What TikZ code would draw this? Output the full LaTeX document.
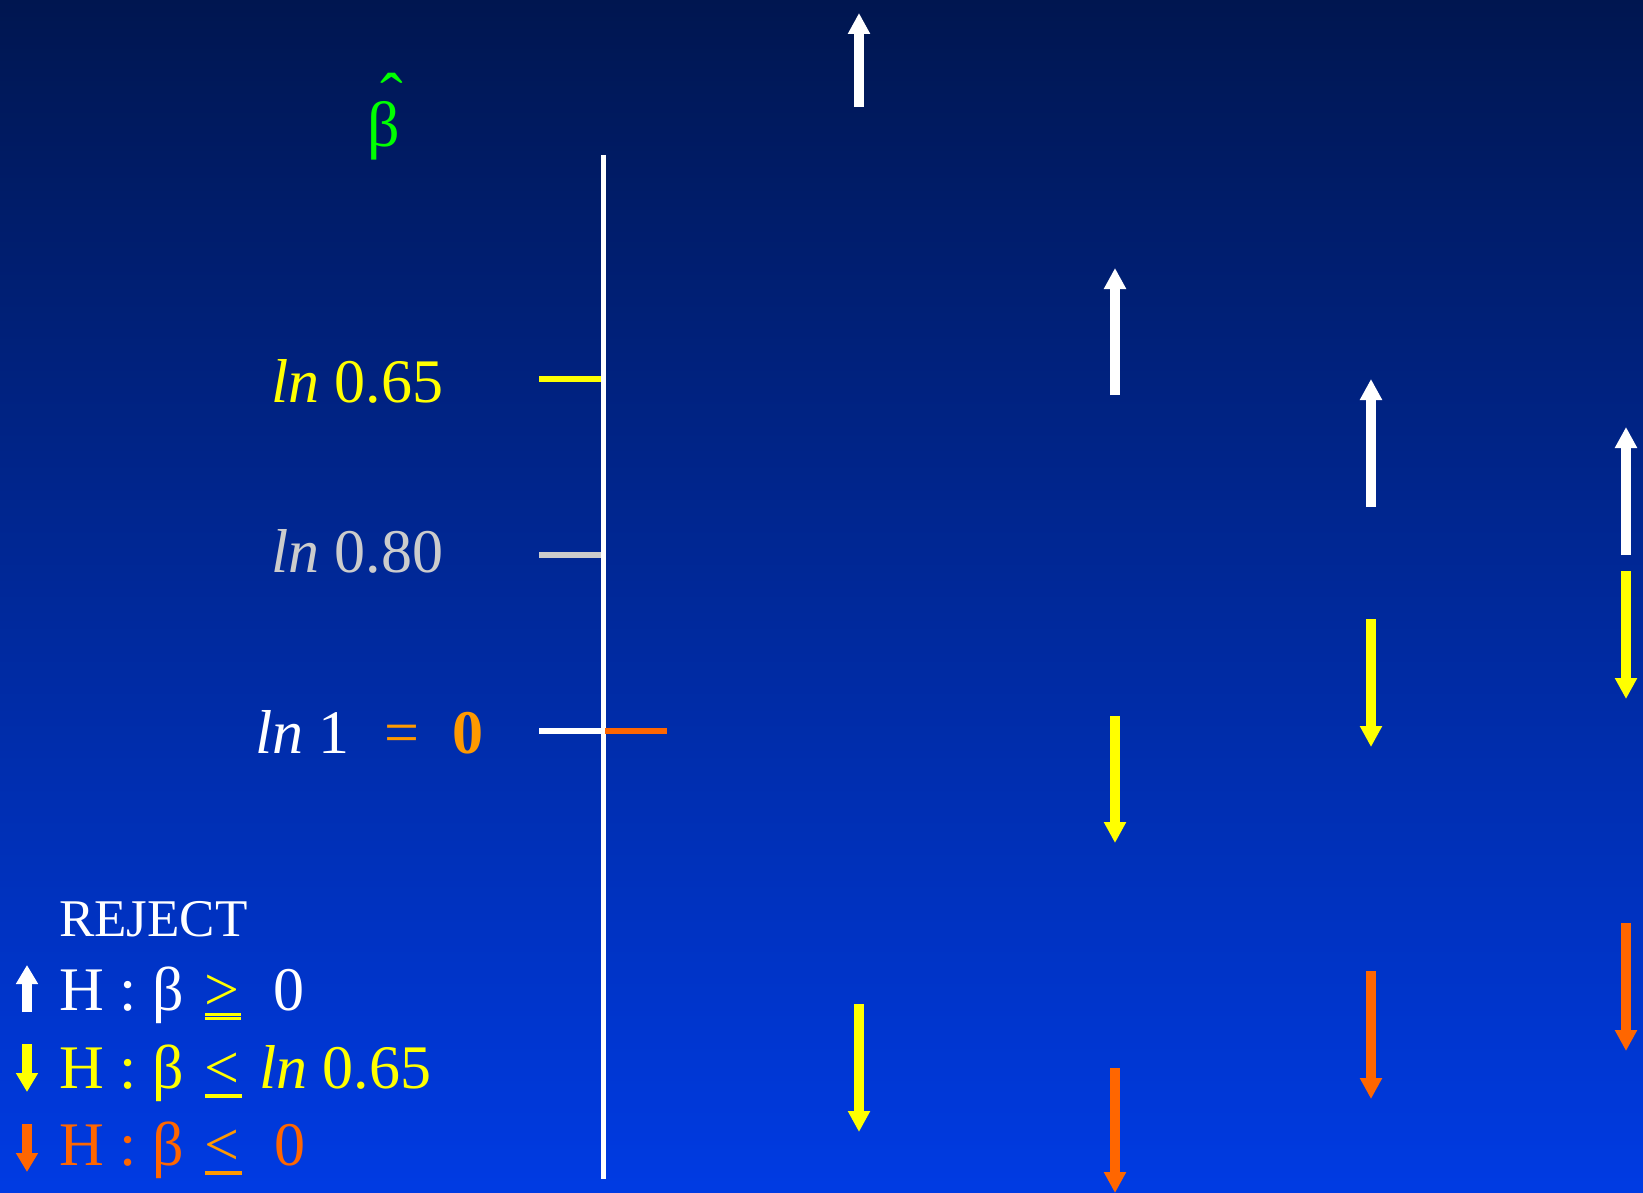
\documentclass[tikz,border=0pt]{standalone}
\usepackage{fontspec}
\setmainfont{Liberation Serif}
\usetikzlibrary{arrows.meta}
\definecolor{bgtop}{RGB}{0,22,80}
\definecolor{bgbot}{RGB}{0,59,227}
\definecolor{ylw}{RGB}{255,255,0}
\definecolor{org}{RGB}{255,102,0}
\definecolor{lorg}{RGB}{255,153,0}
\definecolor{lgray}{RGB}{204,204,204}
\definecolor{grn}{RGB}{0,255,0}
\begin{document}
\begin{tikzpicture}[x=1pt,y=-1pt,
  big/.style={font=\fontsize{62}{62}\selectfont, inner sep=0pt, outer sep=0pt, anchor=base west},
  blk/.style={line width=10.5pt, -{Triangle[width=21pt,length=21pt]}},
  sblk/.style={line width=10pt, -{Triangle[width=21pt,length=19pt]}},
  axisline/.style={white, line width=5pt},
  tick/.style={line width=6pt},
  uline/.style={line width=3.5pt}
]
\shade[top color=bgtop, bottom color=bgbot] (0,0) rectangle (1643,1193);
\useasboundingbox (0,0) rectangle (1643,1193);

% beta hat
\node[font=\fontsize{64}{64}\selectfont, inner sep=0pt, outer sep=0pt, anchor=base west, grn] (bh) at (367,147) {β};
\node[font=\fontsize{68}{68}\selectfont, grn, inner sep=0pt, anchor=base] (hat) at (392,121) {\smash{ˆ}};

% axis
\coordinate (at) at (603,155);
\coordinate (ab) at (603,1179);
\draw[axisline] (at) -- (ab);

% ticks
\coordinate (t65a) at (539,379); \coordinate (t65b) at (601,379);
\coordinate (t80a) at (539,555); \coordinate (t80b) at (601,555);
\coordinate (t1a) at (539,731);  \coordinate (t1b) at (601,731);
\coordinate (t1c) at (605,731);  \coordinate (t1d) at (667,731);
\draw[tick, ylw] (t65a) -- (t65b);
\draw[tick, lgray] (t80a) -- (t80b);
\draw[tick, white] (t1a) -- (t1b);
\draw[tick, org] (t1c) -- (t1d);

% axis labels
\node[big, ylw] (l65) at (271,402) {\textit{ln} 0.65};
\node[big, lgray] (l80) at (271,572) {\textit{ln} 0.80};
\node[big, white] (l1) at (255,753) {\textit{ln} 1};
\node[big, lorg] (eq) at (384,753) {=};
\node[big, lorg] (zr) at (452,753) {\textbf{0}};

% column arrows
\coordinate (c1w0) at (859,107);  \coordinate (c1w1) at (859,13);
\coordinate (c1y0) at (859,1004); \coordinate (c1y1) at (859,1132);
\coordinate (c2w0) at (1115,395); \coordinate (c2w1) at (1115,268);
\coordinate (c2y0) at (1115,716); \coordinate (c2y1) at (1115,843);
\coordinate (c2o0) at (1115,1068);\coordinate (c2o1) at (1115,1193);
\coordinate (c3w0) at (1371,507); \coordinate (c3w1) at (1371,379);
\coordinate (c3y0) at (1371,619); \coordinate (c3y1) at (1371,747);
\coordinate (c3o0) at (1371,971); \coordinate (c3o1) at (1371,1099);
\coordinate (c4w0) at (1626,555); \coordinate (c4w1) at (1626,427);
\coordinate (c4y0) at (1626,571); \coordinate (c4y1) at (1626,699);
\coordinate (c4o0) at (1626,923); \coordinate (c4o1) at (1626,1051);
\draw[blk, white] (c1w0) -- (c1w1);
\draw[blk, ylw] (c1y0) -- (c1y1);
\draw[blk, white] (c2w0) -- (c2w1);
\draw[blk, ylw] (c2y0) -- (c2y1);
\draw[blk, org] (c2o0) -- (c2o1);
\draw[blk, white] (c3w0) -- (c3w1);
\draw[blk, ylw] (c3y0) -- (c3y1);
\draw[blk, org] (c3o0) -- (c3o1);
\draw[blk, white] (c4w0) -- (c4w1);
\draw[blk, ylw] (c4y0) -- (c4y1);
\draw[blk, org] (c4o0) -- (c4o1);

% legend
\node[font=\fontsize{53}{53}\selectfont, inner sep=0pt, anchor=base west, white] (rej) at (59,936) {REJECT};
\coordinate (k1a) at (27,1012); \coordinate (k1b) at (27,965);
\coordinate (k2a) at (27,1044); \coordinate (k2b) at (27,1092);
\coordinate (k3a) at (27,1124); \coordinate (k3b) at (27,1172);
\draw[sblk, white] (k1a) -- (k1b);
\draw[sblk, ylw] (k2a) -- (k2b);
\draw[sblk, org] (k3a) -- (k3b);

\node[big, white] (h1) at (59,1010) {H : β};
\node[big, ylw] (g1) at (204,1010) {>};
\node[big, white] (z1) at (273,1010) {0};
\draw[ylw, line width=2.7pt] (205,1014.7) -- (241,1014.7);
\draw[ylw, line width=2.7pt] (205,1018.7) -- (241,1018.7);

\node[big, ylw] (h2) at (59,1088) {H : β};
\node[big, ylw] (s2) at (204,1088) {<};
\node[big, ylw] (v2) at (259,1088) {\textit{ln} 0.65};
\draw[uline, ylw] (205,1096) -- (242,1096);

\node[big, org] (h3) at (59,1165) {H : β};
\node[big, lorg] (s3) at (204,1165) {<};
\node[big, org] (z3) at (274,1165) {0};
\draw[uline, lorg] (205,1173) -- (242,1173);
\end{tikzpicture}
\end{document}
